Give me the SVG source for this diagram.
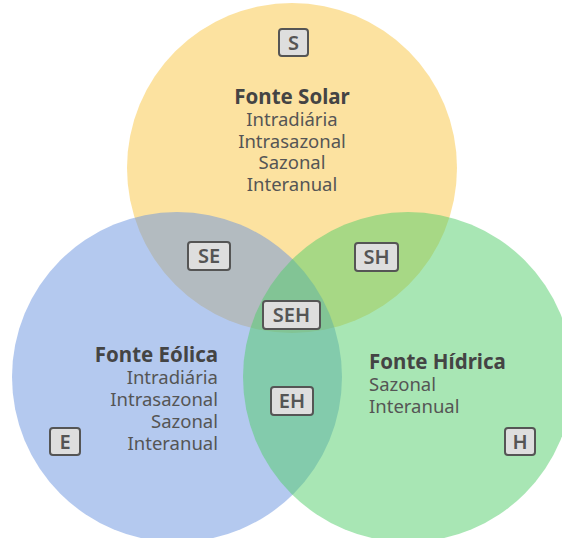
<svg xmlns="http://www.w3.org/2000/svg" width="562" height="538" viewBox="0 0 562 538">
<style>
.c{fill-opacity:0.5}
.t{font-family:"Noto Sans","Open Sans","DejaVu Sans",sans-serif;font-size:20.5px;font-weight:bold;fill:#444}
.l{font-family:"Noto Sans","Open Sans","DejaVu Sans",sans-serif;font-size:18.5px;fill:#555}
.b{fill:#dedede;stroke:#555;stroke-width:2}
.bt{font-family:"Noto Sans","Open Sans","DejaVu Sans",sans-serif;font-size:20px;font-weight:600;fill:#555;text-anchor:middle}
</style>
<rect width="562" height="538" fill="#fff"/>
<g id="solar">
<circle class="c" cx="292" cy="168" r="165" fill="#f9c541"/>
</g>
<g id="eolica">
<circle class="c" cx="177" cy="377" r="165" fill="#6993df"/>
</g>
<g id="hidrica">
<circle class="c" cx="408" cy="377" r="165" fill="#51cd69"/>
</g>
<g id="solar-text">
<text class="t" x="292" y="104" text-anchor="middle">Fonte Solar</text>
<text class="l" x="292" y="126" text-anchor="middle">Intradiária</text>
<text class="l" x="292" y="148" text-anchor="middle">Intrasazonal</text>
<text class="l" x="292" y="169" text-anchor="middle">Sazonal</text>
<text class="l" x="292" y="191" text-anchor="middle">Interanual</text>
</g>
<g id="eolica-text">
<text class="t" x="218" y="362" text-anchor="end">Fonte Eólica</text>
<text class="l" x="218" y="384" text-anchor="end">Intradiária</text>
<text class="l" x="218" y="406" text-anchor="end">Intrasazonal</text>
<text class="l" x="218" y="428" text-anchor="end">Sazonal</text>
<text class="l" x="218" y="450" text-anchor="end">Interanual</text>
</g>
<g id="hidrica-text">
<text class="t" x="369" y="369">Fonte Hídrica</text>
<text class="l" x="369" y="391">Sazonal</text>
<text class="l" x="369" y="413">Interanual</text>
</g>
<g id="label-S"><rect class="b" x="279" y="29" width="29" height="27" rx="3"/><text class="bt" x="293.5" y="50">S</text></g>
<g id="label-SE"><rect class="b" x="188" y="242" width="42" height="28" rx="3"/><text class="bt" x="209" y="263">SE</text></g>
<g id="label-SH"><rect class="b" x="355" y="243" width="43" height="28" rx="3"/><text class="bt" x="376.5" y="264">SH</text></g>
<g id="label-SEH"><rect class="b" x="263" y="301" width="57" height="28" rx="3"/><text class="bt" x="291.5" y="322">SEH</text></g>
<g id="label-EH"><rect class="b" x="271" y="387" width="42" height="28" rx="3"/><text class="bt" x="292" y="408">EH</text></g>
<g id="label-E"><rect class="b" x="50" y="428" width="30" height="27" rx="3"/><text class="bt" x="65" y="449">E</text></g>
<g id="label-H"><rect class="b" x="505" y="428" width="30" height="27" rx="3"/><text class="bt" x="520" y="449">H</text></g>
</svg>
